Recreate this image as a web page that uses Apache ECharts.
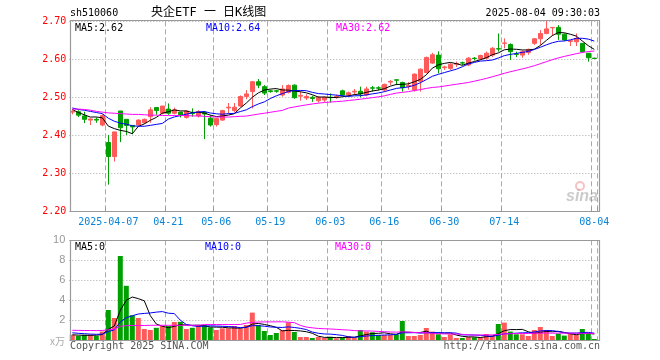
<!DOCTYPE html>
<html><head><meta charset="utf-8">
<script src="https://cdn.jsdelivr.net/npm/echarts@6/dist/echarts.min.js"></script>
<style>html,body{margin:0;padding:0;background:#fff}#c{width:660px;height:360px}</style>
</head><body><div id="c"></div><script>
const dates = ['2025-03-27','2025-03-28','2025-03-31','2025-04-01','2025-04-02','2025-04-03','2025-04-07','2025-04-08','2025-04-09','2025-04-10',
'2025-04-11','2025-04-14','2025-04-15','2025-04-16','2025-04-17','2025-04-18','2025-04-21','2025-04-22','2025-04-23','2025-04-24',
'2025-04-25','2025-04-28','2025-04-29','2025-04-30','2025-05-06','2025-05-07','2025-05-08','2025-05-09','2025-05-12','2025-05-13',
'2025-05-14','2025-05-15','2025-05-16','2025-05-19','2025-05-20','2025-05-21','2025-05-22','2025-05-23','2025-05-26','2025-05-27',
'2025-05-28','2025-05-29','2025-05-30','2025-06-03','2025-06-04','2025-06-05','2025-06-06','2025-06-09','2025-06-10','2025-06-11',
'2025-06-12','2025-06-13','2025-06-16','2025-06-17','2025-06-18','2025-06-19','2025-06-20','2025-06-23','2025-06-24','2025-06-25',
'2025-06-26','2025-06-27','2025-06-30','2025-07-01','2025-07-02','2025-07-03','2025-07-04','2025-07-07','2025-07-08','2025-07-09',
'2025-07-10','2025-07-11','2025-07-14','2025-07-15','2025-07-16','2025-07-17','2025-07-18','2025-07-21','2025-07-22','2025-07-23',
'2025-07-24','2025-07-25','2025-07-28','2025-07-29','2025-07-30','2025-07-31','2025-08-01','2025-08-04'];

const open = [2.461,2.462,2.451,2.440,2.442,2.427,2.381,2.344,2.464,2.442,
2.426,2.427,2.433,2.449,2.473,2.458,2.469,2.458,2.461,2.447,
2.459,2.451,2.460,2.445,2.428,2.440,2.472,2.465,2.477,2.502,
2.515,2.541,2.528,2.517,2.517,2.506,2.513,2.532,2.503,2.498,
2.500,2.491,2.493,2.500,2.500,2.517,2.506,2.514,2.516,2.506,
2.525,2.525,2.519,2.540,2.546,2.539,2.529,2.519,2.542,2.565,
2.590,2.611,2.578,2.576,2.587,2.591,2.585,2.603,2.601,2.603,
2.611,2.628,2.642,2.639,2.614,2.611,2.618,2.642,2.654,2.668,
2.683,2.684,2.666,2.647,2.646,2.642,2.616,2.603];

const close = [2.463,2.453,2.442,2.443,2.440,2.452,2.344,2.409,2.420,2.426,
2.422,2.440,2.442,2.467,2.465,2.477,2.458,2.467,2.454,2.464,
2.457,2.462,2.456,2.427,2.444,2.465,2.474,2.474,2.502,2.509,
2.541,2.532,2.511,2.515,2.516,2.522,2.531,2.499,2.505,2.502,
2.497,2.500,2.500,2.499,2.502,2.506,2.512,2.516,2.509,2.522,
2.524,2.524,2.534,2.542,2.545,2.525,2.531,2.561,2.574,2.605,
2.612,2.575,2.580,2.587,2.589,2.590,2.603,2.602,2.610,2.616,
2.629,2.627,2.643,2.620,2.613,2.620,2.626,2.654,2.668,2.680,
2.684,2.666,2.651,2.649,2.655,2.620,2.604,2.602];

const low = [2.455,2.448,2.432,2.427,2.433,2.424,2.270,2.331,2.382,2.401,
2.403,2.423,2.430,2.433,2.454,2.455,2.454,2.455,2.447,2.444,
2.449,2.447,2.390,2.423,2.423,2.438,2.457,2.460,2.475,2.495,
2.471,2.524,2.506,2.512,2.512,2.502,2.510,2.496,2.491,2.493,
2.488,2.486,2.488,2.486,2.496,2.503,2.503,2.506,2.500,2.503,
2.515,2.518,2.515,2.532,2.532,2.515,2.520,2.515,2.515,2.563,
2.588,2.563,2.572,2.572,2.580,2.585,2.582,2.597,2.598,2.600,
2.606,2.620,2.629,2.598,2.606,2.604,2.612,2.638,2.638,2.666,
2.662,2.651,2.648,2.635,2.635,2.617,2.594,2.601];

const high = [2.466,2.466,2.462,2.444,2.447,2.455,2.401,2.409,2.464,2.442,
2.427,2.442,2.444,2.474,2.473,2.477,2.484,2.473,2.461,2.466,
2.471,2.466,2.464,2.453,2.445,2.467,2.485,2.485,2.505,2.519,
2.543,2.548,2.532,2.520,2.520,2.532,2.534,2.534,2.515,2.508,
2.504,2.503,2.502,2.510,2.507,2.520,2.515,2.522,2.528,2.528,
2.530,2.529,2.536,2.545,2.547,2.541,2.540,2.563,2.576,2.607,
2.617,2.621,2.583,2.590,2.594,2.594,2.606,2.606,2.612,2.620,
2.632,2.668,2.655,2.642,2.620,2.623,2.628,2.656,2.677,2.701,
2.685,2.690,2.668,2.651,2.668,2.642,2.616,2.604];

const volume = [0.55,0.45,0.55,0.55,0.45,0.88,3.03,2.23,8.43,5.45,
2.50,2.23,1.13,1.03,1.25,1.43,1.43,1.83,1.85,1.13,
1.25,1.50,1.50,1.30,1.03,1.20,1.20,1.43,1.17,1.53,
2.77,1.53,0.93,0.53,0.73,1.00,1.80,0.83,0.33,0.33,
0.23,0.33,0.23,0.35,0.20,0.27,0.43,0.27,1.03,0.87,
0.80,0.53,0.53,0.53,0.60,1.93,0.43,0.43,0.53,1.23,
0.87,0.60,0.33,0.60,0.23,0.23,0.33,0.30,0.30,0.63,
0.47,1.63,1.77,0.87,0.60,0.60,0.43,1.03,1.33,1.03,
0.43,0.67,0.47,0.67,0.53,1.13,0.67,0.13];

const priceMa5Head = [2.468,2.460,2.454,2.448];
const priceMa10Head = [2.472,2.468,2.466,2.463,2.460,2.457,2.445,2.437,2.432];
const priceMa30Head = [2.469,2.469,2.468,2.466,2.463,2.461,2.459,2.458,2.457,2.456,
2.455,2.455,2.454,2.453,2.453,2.452,2.452,2.452,2.452,2.452,
2.451,2.451,2.450,2.449,2.448,2.448,2.448,2.449,2.450];
const volMa5Head = [0.55,0.52,0.50,0.50];
const volMa10Head = [0.75,0.70,0.66,0.62,0.60,0.62,0.87,1.04,1.84];
const volMa30Head = [1.00,0.99,0.98,0.98,0.97,0.98,1.05,1.12,1.40,1.47,
1.48,1.48,1.48,1.50,1.50,1.50,1.50,1.50,1.50,1.50,
1.50,1.50,1.58,1.58,1.58,1.58,1.58,1.58,1.58];

const tickDates = ['2025-04-07','2025-04-21','2025-05-06','2025-05-19','2025-06-03','2025-06-16','2025-06-30','2025-07-14','2025-08-04'];
const priceTicks = [2.20,2.30,2.40,2.50,2.60,2.70];
const volTicks = [0,2,4,6,8,10];

function movingAvg(arr, n, head){
  return arr.map((v,i)=> i < n-1 ? head[i] : +(arr.slice(i-n+1,i+1).reduce((a,b)=>a+b,0)/n).toFixed(4));
}
const labelIdx = tickDates.map(d=>dates.indexOf(d));
const isTick = i => labelIdx.indexOf(i) >= 0;

const MONO = "'DejaVu Sans Mono', 'Liberation Mono', monospace";
const UP = '#ff5a5a', DOWN = '#00a000';
const GRID_L = 69.3, GRID_W = 528;

const chart = echarts.init(document.getElementById('c'), null, {renderer:'canvas'});

function xAxisFor(gi, showLabel){
  return {
    type:'category', gridIndex:gi, data:dates, boundaryGap:true,
    axisLine:{show:false},
    axisTick:{show:showLabel, inside:true, length:4, interval:(i)=>isTick(i), lineStyle:{color:'#999'}},
    axisLabel:{show:showLabel, interval:(i)=>isTick(i), color:'#0a84d6', fontFamily:MONO, fontSize:10, margin:6,
      formatter:(v,i)=> i===labelIdx[0] ? v : v.slice(5)},
    splitLine:{show:true, interval:(i)=>isTick(i), lineStyle:{color:'#aaa', type:[5,3], width:1}}
  };
}

function txt(text, x, y, fill, opts){
  return Object.assign({type:'text', z:110, style:{text, x, y, fill, font:'10px '+MONO, textVerticalAlign:'middle'}}, opts||{});
}

const option = {
  animation:false,
  backgroundColor:'#fff',
  grid:[
    {left:GRID_L, top:21.3, width:GRID_W, height:190},
    {left:GRID_L, top:240.3, width:GRID_W, height:100}
  ],
  xAxis:[xAxisFor(0,true), xAxisFor(1,false)],
  yAxis:[
    {type:'value', gridIndex:0, min:priceTicks[0], max:priceTicks[priceTicks.length-1], interval:0.1,
      axisLine:{show:false}, axisTick:{show:false},
      axisLabel:{color:'#ff0000', fontFamily:MONO, fontSize:10, margin:3, formatter:v=>v.toFixed(2)},
      splitLine:{lineStyle:{color:'#aaa', type:[1,2]}}},
    {type:'value', gridIndex:1, min:volTicks[0], max:volTicks[volTicks.length-1], interval:2,
      axisLine:{show:false}, axisTick:{show:false},
      axisLabel:{color:'#999', fontFamily:"'Liberation Sans', Arial, sans-serif", fontSize:11, margin:4, formatter:v=> v===0 ? '' : String(v)},
      splitLine:{lineStyle:{color:'#aaa', type:[1,2]}}}
  ],
  series:[
    {type:'candlestick', xAxisIndex:0, yAxisIndex:0, barWidth:5,
      data: open.map((o,i)=>[o, close[i], low[i], high[i]]),
      itemStyle:{color:UP, color0:DOWN, borderColor:UP, borderColor0:DOWN, borderWidth:1}},
    {type:'line', xAxisIndex:0, yAxisIndex:0, data:movingAvg(close,5,priceMa5Head), symbol:'none', lineStyle:{color:'#000', width:1}, z:5},
    {type:'line', xAxisIndex:0, yAxisIndex:0, data:movingAvg(close,10,priceMa10Head), symbol:'none', lineStyle:{color:'#0000ff', width:1}, z:5},
    {type:'line', xAxisIndex:0, yAxisIndex:0, data:movingAvg(close,30,priceMa30Head), symbol:'none', lineStyle:{color:'#ff00ff', width:1}, z:5},
    {type:'bar', xAxisIndex:1, yAxisIndex:1, barWidth:5,
      data: volume.map((v,i)=>({value:v, itemStyle:{color: close[i]>=open[i] ? UP : DOWN}}))},
    {type:'line', xAxisIndex:1, yAxisIndex:1, data:movingAvg(volume,5,volMa5Head), symbol:'none', lineStyle:{color:'#000', width:1}, z:5},
    {type:'line', xAxisIndex:1, yAxisIndex:1, data:movingAvg(volume,10,volMa10Head), symbol:'none', lineStyle:{color:'#0000ff', width:1}, z:5},
    {type:'line', xAxisIndex:1, yAxisIndex:1, data:movingAvg(volume,30,volMa30Head), symbol:'none', lineStyle:{color:'#ff00ff', width:1}, z:5}
  ],
  graphic:[
    {type:'rect', z:100, shape:{x:70.5, y:20.5, width:529, height:191}, style:{fill:null, stroke:'#999', lineWidth:1.2}},
    {type:'rect', z:100, shape:{x:70.5, y:240.5, width:529, height:100}, style:{fill:null, stroke:'#999', lineWidth:1.2}},
    txt('sh510060', 70, 13, '#000'),
    {type:'text', z:110, style:{text:'央企ETF 一 日K线图', x:151, y:13, fill:'#000', font:"12px 'DejaVu Sans Mono', 'Noto Sans CJK SC'", textVerticalAlign:'middle'}},
    txt('2025-08-04 09:30:03', 600, 13, '#000', {style:{text:'2025-08-04 09:30:03', x:600, y:13, fill:'#000', font:'10px '+MONO, textAlign:'right', textVerticalAlign:'middle'}}),
    txt('MA5:2.62', 75, 28, '#000'),
    txt('MA10:2.64', 206, 28, '#0000ff'),
    txt('MA30:2.62', 336, 28, '#ff00ff'),
    txt('MA5:0', 75, 247, '#000'),
    txt('MA10:0', 205, 247, '#0000ff'),
    txt('MA30:0', 335, 247, '#ff00ff'),
    {type:'text', z:110, style:{text:'x万', x:50, y:341, fill:'#aaa', font:"10px 'Noto Sans CJK SC'", textVerticalAlign:'middle'}},
    txt('Copyright 2025 SINA.COM', 70, 346, '#555'),
    {type:'text', z:110, style:{text:'http://finance.sina.com.cn', x:600, y:346, fill:'#555', font:'10px '+MONO, textAlign:'right', textVerticalAlign:'middle'}},
    {type:'circle', z:90, shape:{cx:580, cy:186, r:4}, style:{fill:null, stroke:'rgba(240,120,120,0.45)', lineWidth:2}},
    {type:'text', z:90, style:{text:'sina', x:566, y:197, fill:'rgba(140,140,140,0.45)', font:"italic bold 16px 'Liberation Sans', Arial", textVerticalAlign:'middle'}}
  ]
};
chart.setOption(option);
</script></body></html>
